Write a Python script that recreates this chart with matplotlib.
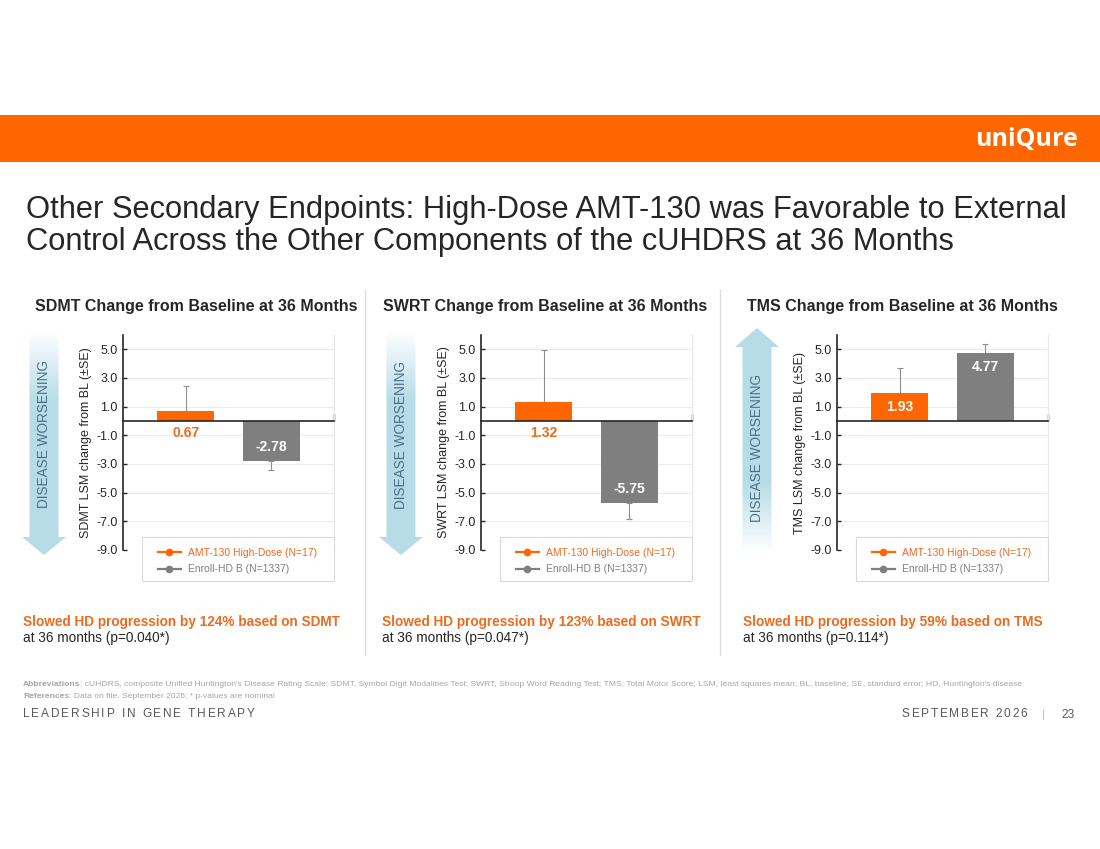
import numpy as np
import matplotlib
matplotlib.use("Agg")
import matplotlib.pyplot as plt
from matplotlib.patches import Polygon, Rectangle
from matplotlib.colors import to_rgb
from matplotlib.font_manager import FontProperties

plt.rcParams['font.family'] = ['Liberation Sans', 'DejaVu Sans']

# ---- data ----
panels = ["SDMT", "SWRT", "TMS"]
groups = ["AMT-130 High-Dose (N=17)", "Enroll-HD B (N=1337)"]
amt_lsm = [0.67, 1.32, 1.93]
amt_se = [1.80, 3.60, 1.80]
enroll_lsm = [-2.78, -5.75, 4.77]
enroll_se = [0.67, 1.12, 0.59]
slowed_pct = [124, 123, 59]
p_values = ["0.040*", "0.047*", "0.114*"]
worsening_up = [False, False, True]
y_ticks = [5.0, 3.0, 1.0, -1.0, -3.0, -5.0, -7.0, -9.0]

ORANGE = "#ff6600"
ORANGE_TXT = "#ec6b1e"
GRAY = "#7f7f7f"
DARK = "#262626"
ARROW = "#b7dce8"

W, H = 1100, 849
fig = plt.figure(figsize=(W / 100, H / 100), dpi=100)
renderer = fig.canvas.get_renderer()

bg = fig.add_axes([0, 0, 1, 1], zorder=0)
bg.set_xlim(0, W)
bg.set_ylim(H, 0)
bg.axis("off")


def rect(x0, y0, x1, y1):
    return [x0 / W, 1 - y1 / H, (x1 - x0) / W, (y1 - y0) / H]


def spaced_text(x, y, s, target, size, color, ha="left"):
    # letter-spaced caps, stretched to the given pixel width
    prop = FontProperties(family="Liberation Sans", size=size)
    widths = []
    for c in s:
        if c == " ":
            widths.append(size * 100 / 72 * 0.28)
        else:
            w, _, _ = renderer.get_text_width_height_descent(c, prop, ismath=False)
            widths.append(w)
    gap = (target - sum(widths)) / (len(s) - 1)
    cx = x if ha == "left" else x - target
    for c, w in zip(s, widths):
        if c != " ":
            bg.text(cx, y, c, fontproperties=prop, color=color, va="center", ha="left")
        cx += w + gap


# header band + logo
bg.add_patch(Rectangle((0, 115), W, 47, color=ORANGE, lw=0))
bg.text(1027, 139, "uniQure", color="white", fontsize=18, fontweight="bold",
        family="Open Sans", ha="center", va="center")

bg.text(26, 210, "Other Secondary Endpoints: High-Dose AMT-130 was Favorable to External",
        fontsize=22.2, color=DARK, va="center")
bg.text(26, 242, "Control Across the Other Components of the cUHDRS at 36 Months",
        fontsize=22.2, color=DARK, va="center")

# separators
for sx in [365, 720]:
    bg.plot([sx, sx], [290, 655], color="#dcdcdc", lw=1)


def draw_arrow(cx, tail, base, tip):
    sw, hw = 14.5, 22
    pts = [(cx - sw, tail), (cx + sw, tail), (cx + sw, base), (cx + hw, base),
           (cx, tip), (cx - hw, base), (cx - sw, base)]
    poly = Polygon(pts, closed=True, facecolor="none", edgecolor="none")
    bg.add_patch(poly)
    ymin, ymax = min(tail, tip), max(tail, tip)
    ys = np.linspace(ymin, ymax, 300)
    alpha = np.clip(np.abs(ys - tail) / 70.0, 0, 1)
    img = np.zeros((300, 1, 4))
    img[..., :3] = to_rgb(ARROW)
    img[:, 0, 3] = alpha
    im = bg.imshow(img, extent=(cx - hw, cx + hw, ymax, ymin), aspect="auto",
                   origin="upper", zorder=1, interpolation="bilinear")
    im.set_clip_path(poly)


ax_x0 = [123, 481, 837]
arrow_cx = [44, 401, 757]
title_cx = [196, 545, 902]
text_x0 = [23, 382, 743]
label_mid = [434, 435, 448]

for i, name in enumerate(panels):
    # disease worsening arrow
    if worsening_up[i]:
        draw_arrow(arrow_cx[i], 553, 347, 328)
    else:
        draw_arrow(arrow_cx[i], 330, 537, 555)
    bg.text(arrow_cx[i], label_mid[i], "DISEASE WORSENING", rotation=90, ha="center",
            va="center", color="#4a7088", fontsize=9.8, zorder=3)

    bg.text(title_cx[i], 307, f"{name} Change from Baseline at 36 Months",
            fontsize=11.5, fontweight="bold", color=DARK, ha="center", va="center")

    ax = fig.add_axes(rect(ax_x0[i], 335, ax_x0[i] + 211, 550), zorder=2)
    ax.set_facecolor("none")
    vals = [amt_lsm[i], enroll_lsm[i]]
    errs = [amt_se[i], enroll_se[i]]
    xs = np.arange(2)
    ax.bar(xs, vals, width=0.67, color=[ORANGE, GRAY], zorder=2)
    lower = [e if v < 0 else 0 for v, e in zip(vals, errs)]
    upper = [e if v >= 0 else 0 for v, e in zip(vals, errs)]
    ax.errorbar(xs, vals, yerr=[lower, upper], fmt="none", ecolor="#8f8f8f",
                elinewidth=0.8, capsize=2.2, capthick=0.8, zorder=1)

    for x, v in zip(xs, vals):
        txt = f"{v:.2f}"
        if abs(v) < 1.5:
            off = -12 if v > 0 else 12
            ax.annotate(txt, (x, 0), xytext=(0, off * 0.72), textcoords="offset points",
                        ha="center", va="center", color=ORANGE_TXT, fontsize=10,
                        fontweight="bold", zorder=4)
        else:
            off = -14 if v > 0 else 14
            ax.annotate(txt, (x, v), xytext=(0, off * 0.72), textcoords="offset points",
                        ha="center", va="center", color="white", fontsize=10,
                        fontweight="bold", zorder=4)

    ax.set_xlim(-0.735, 1.735)
    ax.set_ylim(-9, 6)
    ax.set_yticks(y_ticks)
    ax.set_yticklabels([f"{t:.1f}" for t in y_ticks], fontsize=9, color=DARK)
    ax.tick_params(axis="y", direction="in", length=3, width=1, color=DARK, pad=4)
    ax.set_xticks([1.735])
    ax.set_xticklabels([""])
    ax.tick_params(axis="x", direction="in", length=5, width=1, color=DARK)
    ax.spines["bottom"].set_position(("data", 0))
    ax.spines["bottom"].set_color(DARK)
    ax.spines["bottom"].set_linewidth(1.2)
    ax.spines["left"].set_color(DARK)
    ax.spines["left"].set_linewidth(1.2)
    ax.spines["top"].set_visible(False)
    ax.spines["right"].set_color("#e6e6e6")
    ax.spines["right"].set_linewidth(0.8)
    ax.yaxis.grid(True, color="#ececec", lw=0.8)
    ax.set_axisbelow(True)
    ax.set_ylabel(f"{name} LSM change from BL (\u00b1SE)", fontsize=9.0, color=DARK,
                  labelpad=3)

    # legend box
    ax.add_patch(Rectangle((0.09, -0.144), 0.91, 0.205, transform=ax.transAxes,
                           facecolor="white", edgecolor="#d9d9d9", lw=0.8,
                           clip_on=False, zorder=5))
    h1, = ax.plot([], [], color=ORANGE, marker="o", markersize=4.5, lw=1.6)
    h2, = ax.plot([], [], color=GRAY, marker="o", markersize=4.5, lw=1.6)
    leg = ax.legend([h1, h2], groups, loc="center left", bbox_to_anchor=(0.166, -0.051),
                    frameon=False, fontsize=7.5, handlelength=2.2, handletextpad=0.7,
                    labelspacing=0.65, borderpad=0, borderaxespad=0)
    leg.set_zorder(6)
    leg.get_texts()[0].set_color(ORANGE_TXT)
    leg.get_texts()[1].set_color(GRAY)

    bg.text(text_x0[i], 622, f"Slowed HD progression by {slowed_pct[i]}% based on {name}",
            fontsize=9.85, fontweight="bold", color=ORANGE_TXT, va="center")
    bg.text(text_x0[i], 638, f"at 36 months (p={p_values[i]})", fontsize=9.85,
            color=DARK, va="center")

# footnotes
FOOT = "#a6a6a6"
t = bg.text(23, 685, "Abbreviations", fontsize=6.1, fontweight="bold", color=FOOT, va="center")
bg.annotate(": cUHDRS, composite Unified Huntington's Disease Rating Scale; SDMT, Symbol Digit "
            "Modalities Test; SWRT, Stroop Word Reading Test; TMS, Total Motor Score; LSM, least "
            "squares mean; BL, baseline; SE, standard error; HD, Huntington's disease",
            xy=(1, 0.5), xycoords=t, va="center", fontsize=6.1, color=FOOT)
t = bg.text(23, 696, "References", fontsize=6.1, fontweight="bold", color=FOOT, va="center")
bg.annotate(": Data on file. September 2026; * p-values are nominal",
            xy=(1, 0.5), xycoords=t, va="center", fontsize=6.1, color=FOOT)

spaced_text(23, 714, "LEADERSHIP IN GENE THERAPY", 232, 8.6, "#595959")
spaced_text(1027, 714, "SEPTEMBER 2026", 125, 8.6, "#595959", ha="right")
bg.text(1043, 715, "|", fontsize=8, color="#bfbfbf", va="center", ha="center")
bg.text(1075, 715, "23", fontsize=8.6, color="#595959", va="center", ha="right")

fig.savefig("out.png", dpi=100)
